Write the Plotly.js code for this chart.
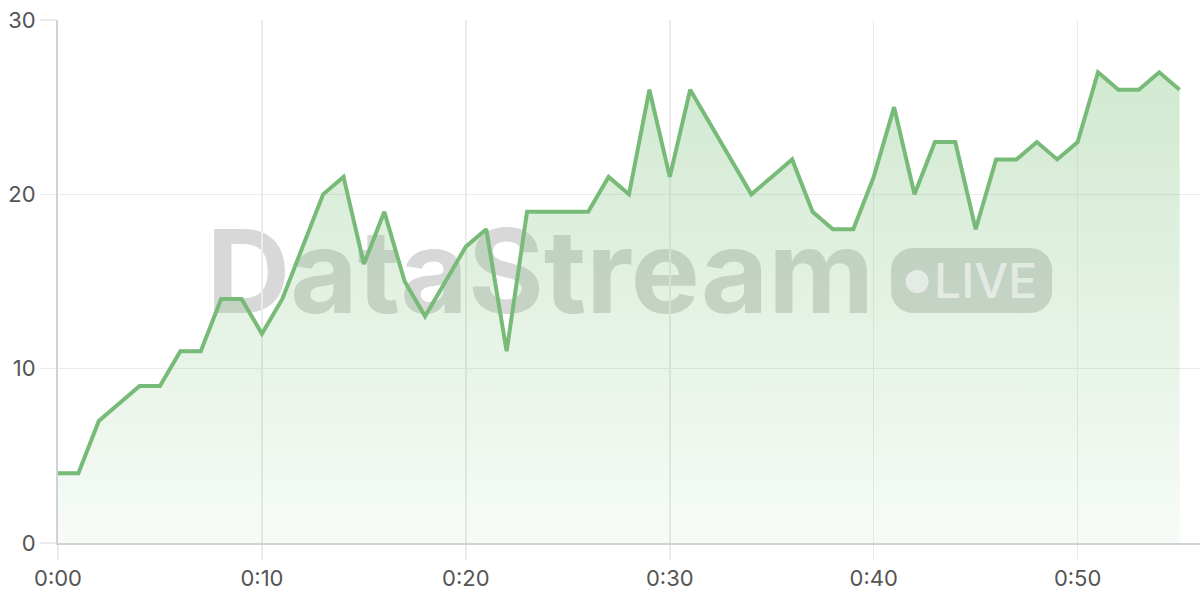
<!DOCTYPE html>
<html>
<head>
<meta charset="utf-8">
<script src="https://cdn.plot.ly/plotly-3.0.1.min.js"></script>
<style>
html,body{margin:0;padding:0;background:#fff;}
#chart{width:1200px;height:600px;}
</style>
</head>
<body>
<div id="chart"></div>
<script>
const minutes = [0,1,2,3,4,5,6,7,8,9,10,11,12,13,14,15,16,17,18,19,20,21,22,23,24,25,26,27,28,29,30,31,32,33,34,35,36,37,38,39,40,41,42,43,44,45,46,47,48,49,50,51,52,53,54,55];
const values = [4,4,7,8,9,9,11,11,14,14,12,14,17,20,21,16,19,15,13,15,17,18,11,19,19,19,19,21,20,26,21,26,24,22,20,21,22,19,18,18,21,25,20,23,23,18,22,22,23,22,23,27,26,26,27,26];
const xTickVals = [0,10,20,30,40,50];
const xTickText = ['0:00','0:10','0:20','0:30','0:40','0:50'];
const yTickVals = [0,10,20,30];
const watermarkText = 'DataStream';
const badgeText = 'LIVE';

const trace = {
  x: minutes, y: values, type: 'scatter', mode: 'lines',
  line: {color: '#78bb78', width: 4, shape: 'linear'},
  fill: 'tozeroy',
  fillgradient: {type: 'vertical', colorscale: [[0, 'rgba(120,190,120,0.06)'], [1, 'rgba(120,190,120,0.34)']]},
  hoverinfo: 'skip'
};

const gridCol = '#ebebeb';
const layout = {
  width: 1200, height: 600,
  margin: {l: 58, r: 0, t: 20, b: 57},
  paper_bgcolor: '#ffffff', plot_bgcolor: '#ffffff',
  showlegend: false,
  font: {family: 'Inter, "Open Sans", sans-serif', color: '#555555', size: 22},
  xaxis: {
    range: [0, 56], tickvals: xTickVals, ticktext: xTickText,
    showgrid: true, gridcolor: gridCol, gridwidth: 1.5,
    zeroline: false, showline: true, linecolor: '#d2d2d2', linewidth: 2,
    ticks: 'outside', ticklen: 15, tickcolor: gridCol, tickwidth: 1.5,
    tickfont: {size: 22, color: '#555555'}, fixedrange: true
  },
  yaxis: {
    range: [0, 30], tickvals: yTickVals,
    showgrid: true, gridcolor: gridCol, gridwidth: 1.5,
    zeroline: false, showline: true, linecolor: '#d2d2d2', linewidth: 2,
    ticks: 'outside', ticklen: 16, tickcolor: gridCol, tickwidth: 1.5,
    tickfont: {size: 22, color: '#555555'}, fixedrange: true
  },
  shapes: [
    {
      type: 'rect', xref: 'x', yref: 'y', x0: 7.4, x1: 39.9, y0: 13.25, y1: 18.45,
      layer: 'below', line: {width: 0}, fillcolor: 'rgba(0,0,0,0)',
      label: {text: watermarkText, textposition: 'middle center',
        font: {family: 'Inter, "Open Sans", sans-serif', size: 116, color: 'rgba(110,110,110,0.27)', weight: 700}}
    },
    {
      type: 'path', xref: 'x', yref: 'y', xsizemode: 'pixel', ysizemode: 'pixel',
      xanchor: 44.80, yanchor: 15.06, layer: 'below',
      path: 'M -58.5,-32.5 L 58.5,-32.5 C 70.6,-32.5 80.5,-22.6 80.5,-10.5 L 80.5,10.5 C 80.5,22.6 70.6,32.5 58.5,32.5 L -58.5,32.5 C -70.6,32.5 -80.5,22.6 -80.5,10.5 L -80.5,-10.5 C -80.5,-22.6 -70.6,-32.5 -58.5,-32.5 Z',
      line: {width: 0}, fillcolor: 'rgba(110,110,110,0.27)'
    },
    {
      type: 'circle', xref: 'x', yref: 'y', xsizemode: 'pixel', ysizemode: 'pixel',
      xanchor: 42.13, yanchor: 15.0, x0: -11.5, x1: 11.5, y0: -11.5, y1: 11.5,
      line: {width: 0}, fillcolor: 'rgba(255,255,255,0.55)'
    }
  ],
  annotations: [
    {x: 45.49, y: 15.06, xref: 'x', yref: 'y', text: badgeText, showarrow: false,
     xanchor: 'center', yanchor: 'middle',
     font: {family: 'Inter, "Open Sans", sans-serif', size: 48, color: 'rgba(255,255,255,0.55)', weight: 500}}
  ]
};

Plotly.newPlot('chart', [trace], layout, {displayModeBar: false, staticPlot: true});
</script>
</body>
</html>
